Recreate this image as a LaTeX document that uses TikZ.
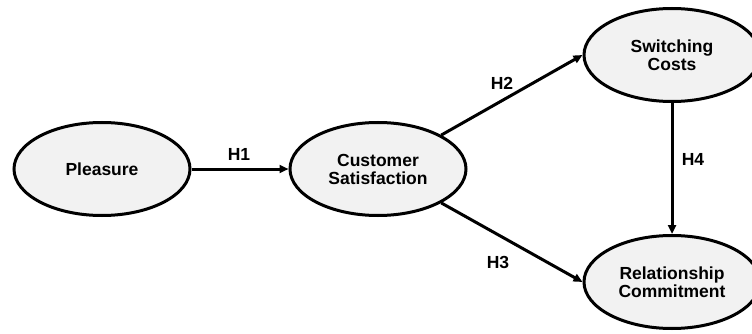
\documentclass[tikz,border=0pt]{standalone}
\usepackage{fontspec}
\setmainfont{Liberation Sans}
\usetikzlibrary{shapes.geometric,arrows.meta}
\definecolor{constfill}{RGB}{242,242,242}

\tikzset{
  construct/.style={draw, ellipse, line width=3pt, fill=constfill, inner sep=0pt,
    minimum width=176pt, minimum height=93pt, align=center,
    font=\fontsize{17.5}{18}\selectfont\bfseries},
  path/.style={line width=3pt, -{Triangle[length=9pt,width=8pt]}},
  hyp/.style={font=\fontsize{17.5}{18}\selectfont\bfseries}
}

\begin{document}
\begin{tikzpicture}[x=1pt, y=-1pt]
  \useasboundingbox (0,0) rectangle (752,334);
  \node[construct] (pl) at (102,169) {Pleasure};
  \node[construct] (cs) at (378,169) {Customer\\Satisfaction};
  \node[construct] (sc) at (672,55) {Switching\\Costs};
  \node[construct] (rc) at (672,282) {Relationship\\Commitment};

  \draw[path] (pl.east) -- (cs.west);
  \draw[path] (cs.north east) -- (sc.west);
  \draw[path] (cs.south east) -- (rc.west);
  \draw[path] (sc.south) -- (rc.north);

  \node[hyp] (h1) at (239,154) {H1};
  \node[hyp] (h2) at (502,83) {H2};
  \node[hyp] (h3) at (498,262) {H3};
  \node[hyp] (h4) at (693,159) {H4};
\end{tikzpicture}
\end{document}
